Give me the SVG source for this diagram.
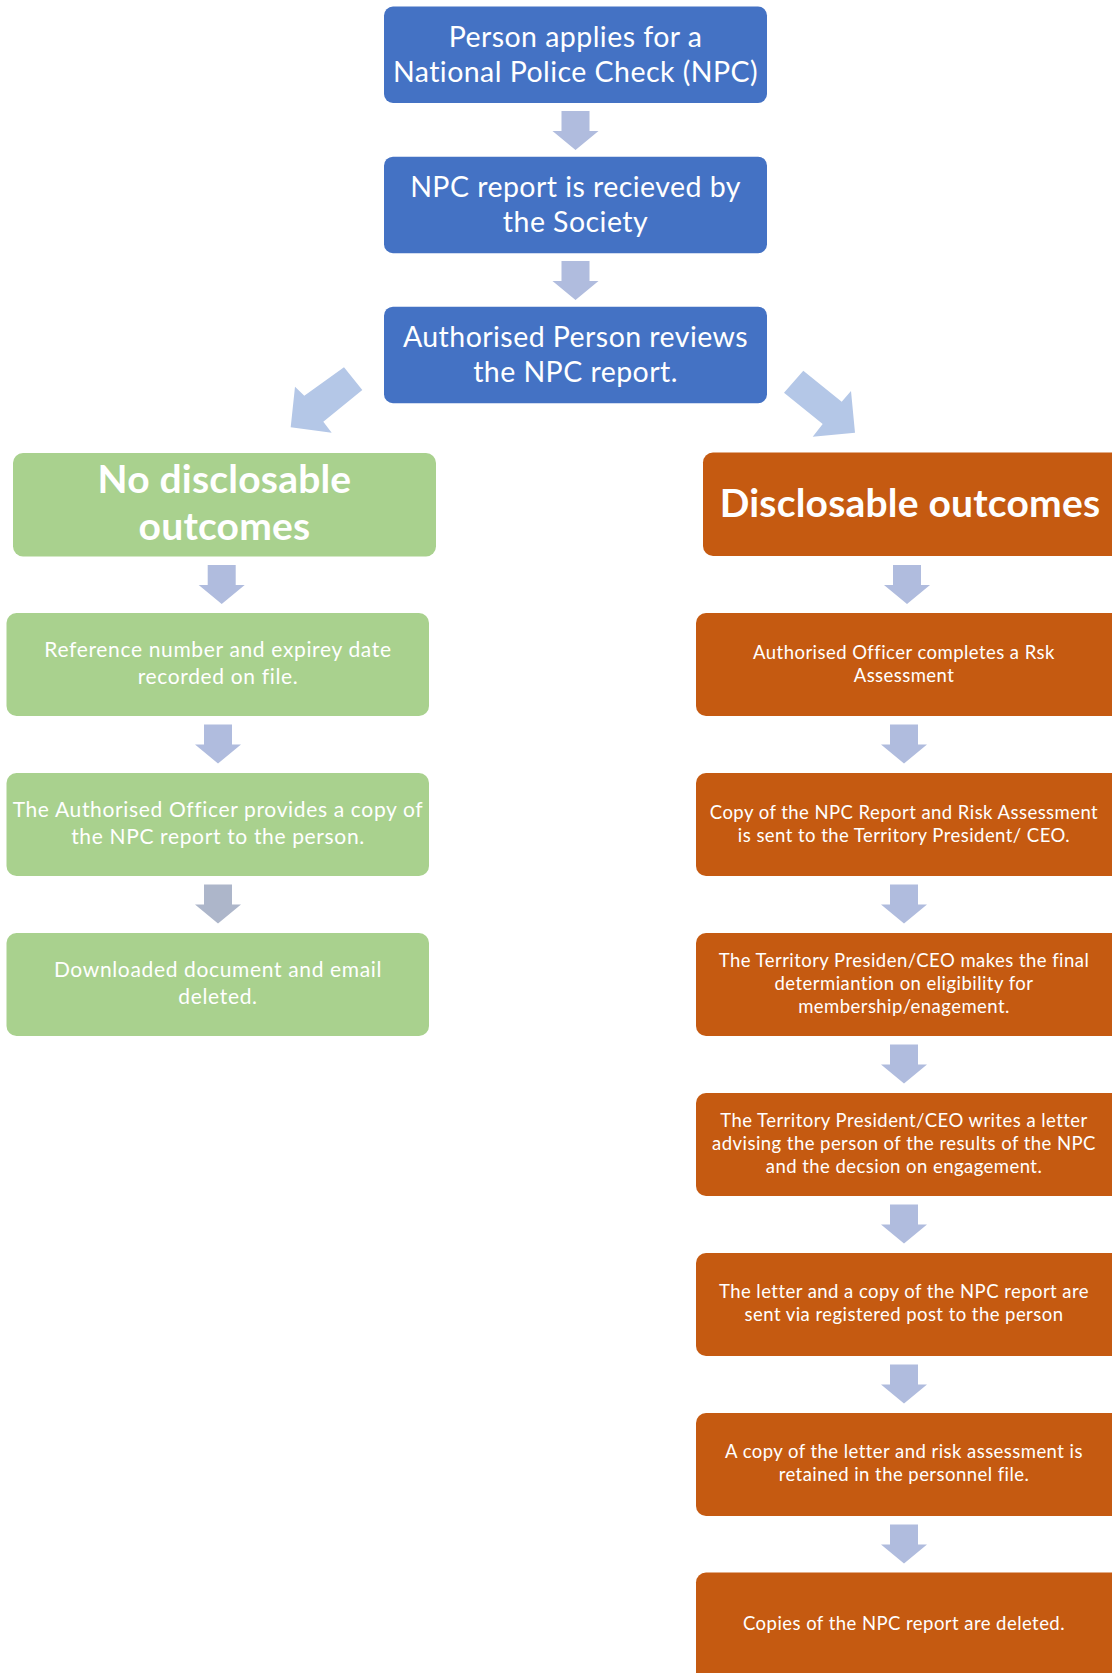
<svg xmlns="http://www.w3.org/2000/svg" width="1112" height="1673" viewBox="0 0 1112 1673">
<defs>
<style>
.blue{fill:#4472C4}
.green{fill:#A9D18E}
.orange{fill:#C55A11}
.arr{fill:#B0BCDE}
.arrg{fill:#ADB6CA}
.diag{fill:#B4C7E7}
text{font-family:Lato,"Open Sans","Liberation Sans",sans-serif;fill:#FFFFFF;text-anchor:middle}
.tb{font-size:28.5px;letter-spacing:0.45px}
.th{font-size:39px;font-weight:bold;letter-spacing:0.2px}
.tg{font-size:21px;letter-spacing:0.65px}
.to{font-size:18.5px;letter-spacing:0.45px}
</style>
<path id="down" d="M-14,0 H14 V20 H23 L0,39 L-23,20 H-14 Z"/>
</defs>
<rect width="1112" height="1673" fill="#FFFFFF"/>

<g id="connectors">
<use href="#down" class="arr" x="575.5" y="111"/>
<use href="#down" class="arr" x="575.5" y="261"/>
<polygon class="diag" points="344,367.3 362.3,390 323.3,421.7 331.7,432.7 290.7,427.3 295,386.7 304.3,395.7"/>
<polygon class="diag" points="803.3,370.7 841.7,401.7 851,391 855,432.7 812.7,436.7 822.7,424 784,392.7"/>
<use href="#down" class="arr" x="221.7" y="565"/>
<use href="#down" class="arr" x="218" y="724.5"/>
<use href="#down" class="arrg" x="218" y="884.5"/>
<use href="#down" class="arr" x="907" y="565"/>
<use href="#down" class="arr" x="904" y="724.5"/>
<use href="#down" class="arr" x="904" y="884.5"/>
<use href="#down" class="arr" x="904" y="1044.5"/>
<use href="#down" class="arr" x="904" y="1204.5"/>
<use href="#down" class="arr" x="904" y="1364.5"/>
<use href="#down" class="arr" x="904" y="1524.5"/>
</g>

<g id="n1"><rect class="blue" x="384" y="6.5" width="383" height="96.5" rx="9"/>
<text class="tb" x="575.5" y="46.7">Person applies for a</text>
<text class="tb" x="575.5" y="81.7">National Police Check (NPC)</text></g>

<g id="n2"><rect class="blue" x="384" y="156.7" width="383" height="96.5" rx="9"/>
<text class="tb" x="575.5" y="197">NPC report is recieved by</text>
<text class="tb" x="575.5" y="232">the Society</text></g>

<g id="n3"><rect class="blue" x="384" y="306.7" width="383" height="96.5" rx="9"/>
<text class="tb" x="575.5" y="347">Authorised Person reviews</text>
<text class="tb" x="575.5" y="382">the NPC report.</text></g>

<g id="g0"><rect class="green" x="13" y="453" width="423" height="103.5" rx="10"/>
<text class="th" x="224.5" y="493">No disclosable</text>
<text class="th" x="224.5" y="540">outcomes</text></g>

<g id="g1"><rect class="green" x="6.5" y="613" width="422.5" height="103" rx="10"/>
<text class="tg" x="218" y="657">Reference number and expirey date</text>
<text class="tg" x="218" y="684">recorded on file.</text></g>

<g id="g2"><rect class="green" x="6.5" y="773" width="422.5" height="103" rx="10"/>
<text class="tg" x="218" y="817">The Authorised Officer provides a copy of</text>
<text class="tg" x="218" y="844">the NPC report to the person.</text></g>

<g id="g3"><rect class="green" x="6.5" y="933" width="422.5" height="103" rx="10"/>
<text class="tg" x="218" y="977">Downloaded document and email</text>
<text class="tg" x="218" y="1004">deleted.</text></g>

<g id="o0"><rect class="orange" x="703" y="452.5" width="430" height="103.5" rx="10"/>
<text class="th" x="910" y="517">Disclosable outcomes</text></g>

<g id="o1"><rect class="orange" x="696" y="613" width="430" height="103" rx="10"/>
<text class="to" x="904" y="659">Authorised Officer completes a Rsk</text>
<text class="to" x="904" y="681.7">Assessment</text></g>

<g id="o2"><rect class="orange" x="696" y="773" width="430" height="103" rx="10"/>
<text class="to" x="904" y="818.7">Copy of the NPC Report and Risk Assessment</text>
<text class="to" x="904" y="842">is sent to the Territory President/ CEO.</text></g>

<g id="o3"><rect class="orange" x="696" y="933" width="430" height="103" rx="10"/>
<text class="to" x="904" y="966.7">The Territory Presiden/CEO makes the final</text>
<text class="to" x="904" y="990">determiantion on eligibility for</text>
<text class="to" x="904" y="1013.3">membership/enagement.</text></g>

<g id="o4"><rect class="orange" x="696" y="1093" width="430" height="103" rx="10"/>
<text class="to" x="904" y="1126.7">The Territory President/CEO writes a letter</text>
<text class="to" x="904" y="1150">advising the person of the results of the NPC</text>
<text class="to" x="904" y="1173.3">and the decsion on engagement.</text></g>

<g id="o5"><rect class="orange" x="696" y="1253" width="430" height="103" rx="10"/>
<text class="to" x="904" y="1298">The letter and a copy of the NPC report are</text>
<text class="to" x="904" y="1321">sent via registered post to the person</text></g>

<g id="o6"><rect class="orange" x="696" y="1413" width="430" height="103" rx="10"/>
<text class="to" x="904" y="1457.7">A copy of the letter and risk assessment is</text>
<text class="to" x="904" y="1481">retained in the personnel file.</text></g>

<g id="o7"><rect class="orange" x="696" y="1572.5" width="430" height="110" rx="10"/>
<text class="to" x="904" y="1630">Copies of the NPC report are deleted.</text></g>
</svg>
